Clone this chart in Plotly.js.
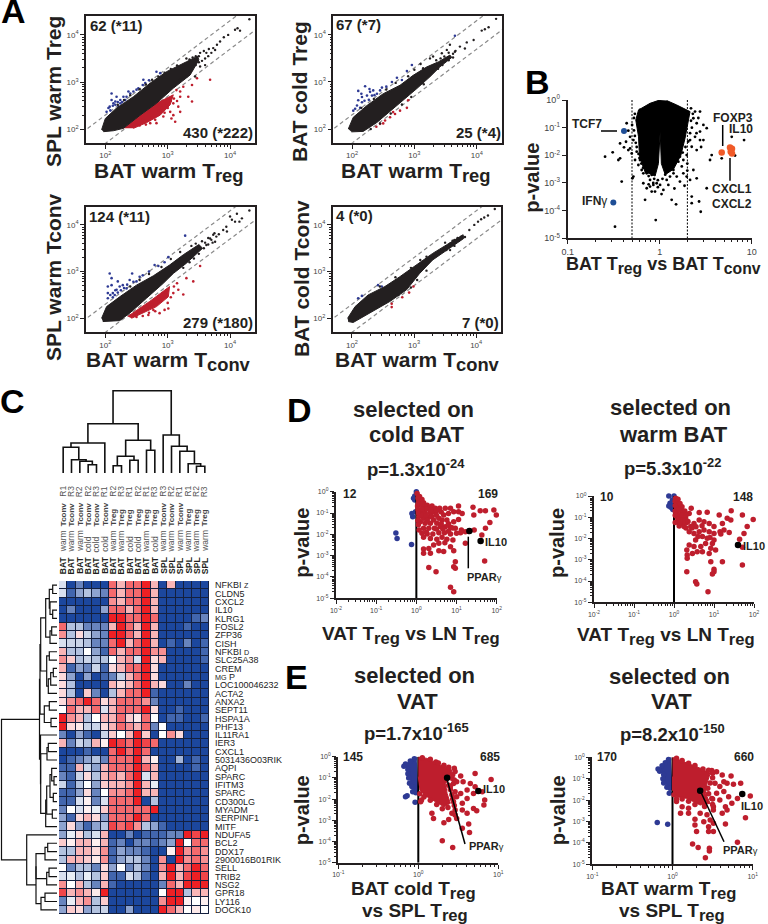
<!DOCTYPE html>
<html>
<head>
<meta charset="utf-8">
<script src="https://cdn.plot.ly/plotly-3.0.1.min.js"></script>
<style>body{margin:0;background:#fff}</style>
</head>
<body>
<div id="chart"></div>
<script>
// all scatter values are log10(x), log10(y)
var a1Cloud = [[1.94,1.99],[2.00,2.23],[2.18,2.45],[2.45,2.69],[2.72,2.98],[2.98,3.22],[3.30,3.43],[3.48,3.55],[3.50,3.47],[3.36,3.15],[3.09,2.87],[2.82,2.55],[2.56,2.30],[2.29,2.02],[2.13,1.97],[1.97,1.95]];
var a1Wedge = [[2.29,2.02],[2.82,2.55],[3.09,2.73],[3.04,2.52],[2.88,2.30],[2.66,2.14],[2.45,2.02]];
var a1Black = [[4.31,4.33],[4.12,4.14],[4.16,4.09],[4.08,4.11],[3.97,4.0],[3.90,3.95],[3.84,3.86],[3.79,3.79],[3.73,3.72],[3.76,3.68],[3.52,3.33],[3.60,3.36],[3.44,3.12],[3.39,3.26],
  [3.30,3.50],[3.35,3.48],[3.40,3.52],[3.45,3.55],[3.50,3.55],[3.52,3.62],[3.58,3.66],[3.62,3.62],[3.66,3.70],[3.40,3.32],[3.45,3.36],[3.50,3.42],[3.55,3.45],[3.60,3.50],[3.65,3.55],[3.70,3.62],[3.20,3.05],[3.25,3.10],[3.30,3.12],[3.35,3.20],[3.15,3.35],[3.05,3.28],[2.95,3.20],[2.85,3.12],[2.75,3.05],[2.65,2.95],[2.55,2.85],[2.40,2.72],[2.30,2.62],[2.20,2.52]];
var a1Blue = [[2.10,2.76],[2.05,2.45],[2.18,2.69],[2.24,2.62],[2.29,2.69],[2.61,3.05],[2.64,2.98],[2.13,2.55],[2.07,2.48],[2.34,2.69],[2.45,2.80],[2.82,3.22],[2.88,3.19],[2.24,2.55],[2.16,2.59],[2.37,2.80],[2.53,2.87],[2.21,2.48],[2.32,2.62],[2.02,2.37],
  [2.08,2.40],[2.12,2.50],[2.16,2.52],[2.2,2.58],[2.27,2.58],[2.4,2.76],[2.5,2.84],[2.6,2.94],[2.7,3.04],[2.1,2.62]];
var a1Red = [[3.68,3.05],[3.47,3.08],[3.39,2.94],[3.33,2.69],[3.39,2.59],[3.25,2.90],[3.20,2.69],[3.14,2.83],[3.09,2.55],[3.04,2.37],[3.09,2.30],[3.20,2.37],[3.17,2.48],[3.06,2.23],[3.12,2.16],[2.98,2.55],[2.93,2.27],[2.82,2.13],[2.72,2.13],
  [2.55,2.08],[2.6,2.2],[2.65,2.1],[2.75,2.25],[2.8,2.2],[2.85,2.4],[2.9,2.45],[2.95,2.35],[3.0,2.45],[3.05,2.6],[3.1,2.65],[3.15,2.6],[3.2,2.8],[2.45,2.05],[2.7,2.38],[2.5,2.15]];

var a2Cloud = [[1.94,2.00],[2.02,2.25],[2.24,2.50],[2.50,2.75],[2.77,2.93],[2.98,3.14],[3.20,3.32],[3.39,3.43],[3.57,3.57],[3.60,3.52],[3.41,3.32],[3.25,3.11],[3.04,2.86],[2.82,2.61],[2.61,2.36],[2.40,2.14],[2.18,1.95],[1.99,1.94]];
var a2Black = [[4.31,4.34],[4.19,4.16],[4.13,4.12],[4.08,4.09],[3.95,3.89],[3.84,3.84],[3.81,3.71],[3.73,3.75],[3.65,3.64],[3.57,3.79],[3.52,3.68],[3.44,3.61],[3.25,3.50],[3.30,3.54],[3.14,3.29],
  [3.35,3.46],[3.42,3.50],[3.48,3.54],[3.55,3.62],[3.62,3.60],[3.66,3.66],[3.30,3.22],[3.38,3.28],[3.45,3.36],[3.55,3.46],[3.62,3.52],[3.1,3.38],[3.0,3.26],[2.9,3.12],[2.7,2.98],[2.55,2.84],[2.35,2.64],[2.15,2.45],[2.62,2.33],[2.8,2.52],[2.95,2.68],[3.15,2.95],[2.45,2.12],[2.30,2.00]];
var a2Blue = [[2.21,2.91],[2.10,2.81],[2.29,2.79],[2.16,2.68],[2.34,2.82],[2.48,2.88],[2.10,2.61],[2.05,2.43],[2.02,2.39],[2.16,2.57],[2.24,2.71],[2.88,3.23],[2.96,3.36],[3.65,3.98],[2.72,3.09],[2.64,3.00],[2.80,3.04],[2.32,2.71],[2.40,2.75],
  [2.08,2.5],[2.13,2.45],[2.2,2.6],[2.27,2.62],[2.36,2.72],[2.45,2.82],[2.55,2.9],[2.15,2.75],[2.28,2.85]];
var a2Red = [[2.88,2.45],[2.90,2.61],[2.77,2.39],[2.69,2.32],[2.61,2.25],[2.53,2.18],[2.45,2.11],[2.39,2.05],[2.50,2.12],[2.66,2.36]];

var a3Cloud = [[1.94,2.00],[2.02,2.25],[2.23,2.46],[2.50,2.71],[2.77,2.91],[3.03,3.14],[3.25,3.36],[3.50,3.58],[3.56,3.50],[3.30,3.18],[3.09,2.96],[2.93,2.75],[2.66,2.43],[2.39,2.11],[2.23,1.95],[1.96,1.93]];
var a3Wedge = [[2.36,2.04],[2.71,2.36],[3.03,2.68],[3.01,2.46],[2.82,2.25],[2.55,2.07],[2.42,2.0]];
var a3Black = [[4.31,4.31],[4.11,4.24],[4.19,4.14],[4.15,4.07],[4.08,4.07],[4.0,4.18],[4.03,4.11],[3.94,3.96],[3.89,3.89],[3.95,3.86],[3.73,3.79],[3.62,3.57],[3.76,3.64],[3.68,3.71],[3.41,3.39],
  [3.55,3.65],[3.6,3.62],[3.65,3.72],[3.7,3.68],[3.75,3.82],[3.58,3.50],[3.65,3.58],[3.72,3.62],[3.78,3.75],[3.82,3.80],[3.45,3.6],[3.38,3.55],[3.42,3.28],[3.5,3.38],[3.2,3.42],[3.05,3.27],[2.9,3.1],[2.7,2.95],[2.55,2.82],[2.4,2.68],[3.25,3.08],[3.35,3.2]];
var a3Blue = [[2.07,2.96],[2.10,2.86],[2.20,2.79],[2.04,2.68],[2.10,2.71],[2.18,2.61],[2.04,2.43],[2.28,2.71],[2.39,2.82],[2.43,2.96],[2.55,2.89],[2.79,3.14],[3.01,3.31],[3.28,3.77],[2.34,2.64],[2.12,2.54],[2.23,2.68],[2.50,2.79],[2.04,2.54],[2.15,2.50],
  [2.08,2.5],[2.12,2.45],[2.16,2.6],[2.2,2.55],[2.25,2.6],[2.3,2.65],[2.35,2.72],[2.45,2.78],[2.6,2.92],[2.7,3.0],[2.85,3.12],[2.95,3.2]];
var a3Red = [[3.52,3.12],[3.30,2.86],[3.41,2.79],[3.17,2.61],[3.25,2.51],[3.09,2.54],[2.95,2.18],[3.01,2.21],[2.87,2.11],[2.77,2.18],[2.69,2.07],
  [2.5,2.03],[2.6,2.05],[2.7,2.12],[2.75,2.3],[2.85,2.35],[2.9,2.45],[2.95,2.55],[3.05,2.45],[3.1,2.68],[3.15,2.75],[2.8,2.15],[2.45,2.05],[3.0,2.33]];

var a4Cloud = [[1.93,2.00],[2.05,2.25],[2.26,2.50],[2.53,2.68],[2.77,2.89],[3.04,3.14],[3.30,3.39],[3.52,3.57],[3.79,3.79],[3.80,3.71],[3.57,3.50],[3.30,3.25],[3.09,2.96],[2.88,2.61],[2.61,2.36],[2.29,2.11],[2.02,1.91],[1.94,1.93]];
var a4Black = [[4.30,4.34],[4.19,4.20],[4.13,4.16],[4.08,4.12],[4.03,4.07],[3.97,4.0],[3.89,3.89],[3.76,3.75],[3.65,3.68],[3.52,3.46],[3.30,3.31],
  [3.5,3.62],[3.58,3.60],[3.62,3.66],[3.7,3.72],[3.75,3.72],[3.58,3.46],[3.65,3.55],[3.72,3.66],[3.82,3.74],[3.2,3.32],[3.1,3.25],[2.95,3.08],[2.7,2.88],[2.45,2.68],[3.2,3.02],[3.05,2.82],[2.95,2.66],[2.75,2.50]];
var a4Blue = [[2.10,2.43],[2.16,2.48],[2.42,2.71],[2.48,2.68]];
var a4Red = [[2.64,2.24],[2.64,2.31],[2.81,2.45],[2.92,2.55],[2.99,2.68]];

var bCloud = [[0,0],[-0.105,-0.12],[-0.23,-0.36],[-0.26,-0.72],[-0.23,-1.33],[-0.22,-2.05],[-0.16,-2.59],[-0.05,-2.75],[-0.014,-2.3],[0,-1.14],[0.005,-1.14],[0.018,-2.3],[0.06,-2.7],[0.15,-2.5],[0.23,-2.0],[0.275,-1.39],[0.31,-0.84],[0.33,-0.42],[0.185,-0.18],[0.076,-0.02]];
var bBlack = [[-0.594,-2.05],[-0.511,-1.89],[-0.449,-2.17],[-0.431,-2.11],[-0.388,-1.71],[-0.341,-1.81],[-0.413,-2.95],[-0.297,-2.83],[-0.286,-2.77],[-0.341,-1.11],[-0.322,-1.33],[-0.286,-1.45],[-0.359,-0.84],[-0.366,-1.51],[-0.431,-1.57],[-0.214,-0.36],[-0.178,-3.01],[-0.159,-3.61],[-0.043,-4.34],[-0.486,-4.58],[-0.141,-3.19],[-0.105,-3.13],[-0.069,-3.07],[-0.051,-3.31],[-0.087,-3.31],[-0.033,-3.01],[-0.105,-2.89],[-0.087,-2.71],[-0.141,-2.65],[-0.196,-2.53],[-0.232,-2.35],[-0.268,-2.17],[-0.304,-1.93],[-0.322,-1.75],[-0.25,-1.87],[-0.178,-2.65],[-0.214,-2.17],
  [0.438,-0.42],[0.384,-0.42],[0.366,-0.66],[0.402,-0.84],[0.475,-0.90],[0.511,-1.02],[0.438,-1.14],[0.384,-1.33],[0.33,-1.45],[0.438,-1.45],[0.475,-1.45],[0.348,-1.69],[0.402,-1.81],[0.293,-1.99],[0.257,-2.17],[0.203,-2.23],[0.149,-2.53],[0.185,-2.77],[0.112,-2.77],[0.076,-2.89],[0.094,-3.07],[0.257,-2.65],[0.293,-2.77],[0.33,-2.89],[0.366,-2.53],[0.402,-2.83],[0.511,-3.19],[0.348,-3.49],[0.428,-3.67],[0.348,-3.73],[0.446,-4.04],[0.13,-3.61],[0.178,-3.77],[0.565,-1.99],[0.547,-2.17],[0.674,-2.11],[0.783,-1.33],[0.917,-1.45],[0.819,-2.01],[0.04,-3.25],[0.004,-3.07],
  [-0.27,-0.5],[-0.28,-0.65],[-0.3,-0.9],[-0.28,-1.1],[-0.27,-1.3],[-0.26,-1.55],[-0.25,-1.7],[-0.23,-1.95],[-0.22,-2.1],[-0.2,-2.3],[-0.18,-2.45],[-0.15,-2.6],[-0.12,-2.75],[-0.06,-2.85],[-0.02,-2.9],[-0.07,-3.0],[-0.12,-3.05],
  [0.34,-0.3],[0.36,-0.5],[0.34,-0.75],[0.35,-1.0],[0.33,-1.2],[0.31,-1.5],[0.28,-1.7],[0.25,-1.9],[0.22,-2.05],[0.18,-2.2],[0.14,-2.4],[0.1,-2.55],[0.06,-2.7],[0.03,-2.85],[0.15,-2.65],[0.24,-2.4],[0.3,-2.3],[0.4,-1.2],[0.42,-0.65],[0.45,-1.7],[0.3,-2.55],[0.22,-2.95],[0.27,-3.1],[0.16,-3.2],[0.02,-3.4],[-0.02,-3.15]];
var bBlue = [[-0.388,-1.12],[-0.504,-3.71]];
var bOrange = [[0.674,-1.90],[0.764,-1.72],[0.786,-1.76],[0.772,-1.87],[0.786,-1.93]];
var bCutoffs = [0.5, 2];

var d1Red = [[0.02,-0.08],[0.08,-0.23],[0.14,-0.36],[0.06,-0.42],[0.18,-0.52],[0.10,-0.58],[0.27,-0.63],[0.03,-0.67],[0.17,-0.73],[0.31,-0.78],[0.39,-0.67],[0.47,-0.78],[0.58,-0.78],[0.72,-0.78],[0.85,-0.78],[1.05,-0.67],[0.10,-0.94],[0.22,-0.98],[0.35,-0.98],[0.45,-0.94],[0.06,-1.17],[0.18,-1.25],[0.31,-1.20],[0.43,-1.33],[0.56,-1.25],[0.68,-1.09],[0.80,-1.02],[0.93,-0.94],[1.05,-0.94],[1.14,-1.02],[1.41,-0.73],[1.59,-0.89],[1.72,-0.89],[1.93,-0.86],[1.99,-1.09],[1.43,-1.09],[1.05,-1.30],[0.93,-1.41],[0.76,-1.33],[0.64,-1.33],[0.51,-1.48],[0.35,-1.48],[0.22,-1.48],[0.10,-1.41],[1.83,-1.45],[1.72,-1.72],[1.63,-2.03],[1.44,-1.80],[1.22,-1.88],[1.10,-1.92],[0.97,-1.72],[0.85,-1.67],[0.72,-1.64],[0.60,-1.64],[0.45,-1.72],[0.31,-1.72],[0.18,-1.72],[0.14,-1.95],[0.27,-1.98],[0.41,-1.98],[0.56,-1.92],[0.70,-1.92],[0.85,-1.98],[1.00,-1.95],[0.76,-2.23],[0.64,-2.14],[0.51,-2.23],[0.35,-2.19],[0.18,-2.14],[0.91,-2.27],[0.85,-2.58],[0.71,-2.39],[0.56,-2.42],[0.43,-2.50],[0.18,-2.69],[0.31,-2.66],[0.35,-2.89],[0.18,-2.89],[0.68,-2.81],[0.56,-2.77],[0.93,-2.77],[1.22,-2.42],[0.97,-3.28],[0.93,-3.52],[0.97,-3.59],[0.31,-3.55],[0.49,-3.75],[0.85,-4.48],[0.93,-4.69],[1.70,-3.25],
  [0.04,-0.3],[0.12,-0.45],[0.2,-0.65],[0.05,-0.55],[0.14,-0.6],[0.25,-0.8],[0.04,-0.85],[0.14,-0.82],[0.36,-0.85],[0.5,-0.9],[0.62,-0.95],[0.05,-1.0],[0.14,-1.1],[0.25,-1.12],[0.38,-1.15],[0.04,-1.35],[0.05,-1.55],[0.27,-1.35],[0.5,-1.1],[0.62,-1.5],[0.8,-1.5],[0.9,-1.7],[0.07,-1.8],[0.25,-1.9],[0.5,-1.75],[0.66,-1.75],[0.8,-1.85],[1.12,-1.8],[1.3,-1.87]];
var d1Blue = [[-0.51,-1.94],[-0.48,-2.19],[-0.12,-2.48],[-0.09,-1.17],[-0.11,-1.02],[-0.02,-0.94],[-0.04,-0.20],[-0.04,-0.39],[0,0],[-0.07,-0.31]];
var d1Genes = [[1.32,-1.84],[1.60,-2.31]];

var d2Red = [[0.04,-0.11],[0.08,-0.27],[0.13,-0.42],[0.07,-0.58],[0.17,-0.58],[0.08,-0.74],[0.21,-0.74],[0.13,-0.89],[0.25,-0.89],[0.07,-0.97],[0.17,-1.05],[0.29,-1.05],[0.08,-1.21],[0.21,-1.29],[0.32,-1.25],[0.13,-1.41],[0.25,-1.44],[0.38,-0.82],[0.43,-0.58],[0.63,-0.78],[0.83,-0.77],[1.13,-0.89],[1.43,-0.69],[1.71,-0.89],[1.98,-1.10],[1.83,-1.44],[1.75,-1.76],[1.64,-2.04],[1.38,-1.72],[1.25,-1.60],[1.15,-1.68],[1.33,-1.05],[1.42,-1.13],[1.21,-1.29],[1.00,-1.44],[0.88,-1.29],[0.75,-1.21],[0.63,-1.13],[0.50,-1.29],[0.42,-1.44],[0.38,-1.68],[0.50,-1.76],[0.63,-1.68],[0.75,-1.60],[0.88,-1.68],[1.00,-1.76],[1.17,-1.79],[0.71,-1.91],[0.83,-1.99],[0.96,-2.23],[1.00,-2.07],[0.79,-2.23],[0.54,-2.07],[0.38,-2.30],[0.50,-2.38],[0.67,-2.38],[0.92,-2.46],[0.32,-2.54],[0.33,-2.77],[0.46,-2.70],[0.58,-2.62],[0.71,-2.62],[0.88,-2.70],[1.04,-2.54],[0.33,-2.93],[0.92,-3.09],[1.21,-3.09],[1.71,-2.41],[1.71,-3.24],[1.00,-3.56],[0.96,-3.67],[0.32,-3.56],[0.54,-4.03],[0.57,-4.14],[0.85,-4.50],[1.00,-3.45],
  [0.03,-0.25],[0.1,-0.15],[0.03,-0.45],[0.15,-0.35],[0.2,-0.5],[0.03,-0.7],[0.12,-0.65],[0.27,-0.7],[0.03,-0.9],[0.2,-0.9],[0.3,-0.9],[0.1,-1.1],[0.03,-1.25],[0.25,-1.2],[0.15,-1.25],[0.35,-1.2],[0.3,-1.5],[0.45,-1.5],[0.55,-1.45],[0.7,-1.4],[0.6,-1.9],[0.9,-1.95]];
var d2Blue = [[-0.13,0],[0,0],[-0.04,-0.19],[-0.10,-0.34],[-0.02,-0.42],[-0.08,-0.53],[-0.03,-0.63],[-0.13,-0.47]];
var d2Genes = [[1.60,-2.30]];

var e1Cloud = [[0,0],[0.11,-0.08],[0.275,-0.39],[0.42,-0.63],[0.40,-1.02],[0.34,-1.26],[0.36,-1.73],[0.40,-2.20],[0.32,-2.36],[0.21,-2.12],[0.11,-1.89],[0.02,-1.57],[0,-0.94]];
var e1BlueCloud = [[-0.02,0],[-0.14,-0.31],[-0.175,-0.39],[-0.12,-0.71],[-0.10,-1.18],[-0.06,-1.60],[0,-1.65]];
var e1Red = [[0.91,-1.07],[0.71,-0.79],[0.53,-0.91],[0.56,-1.18],[0.65,-1.26],[0.71,-1.42],[0.61,-1.57],[0.53,-1.73],[0.46,-1.65],[0.40,-1.42],[0.44,-1.26],[0.48,-1.18],[0.42,-1.02],[0.48,-1.89],[0.44,-2.12],[0.55,-2.20],[0.61,-1.97],[0.69,-1.73],[0.80,-1.65],[0.83,-2.04],[0.82,-2.28],[0.69,-2.44],[0.73,-2.55],[0.55,-2.52],[0.61,-2.67],[0.46,-2.52],[0.42,-2.67],[0.17,-2.67],[0.19,-2.91],[0.32,-3.11],[0.38,-2.96],[0.48,-2.91],[0.46,-2.75],[0.63,-3.18],[0.55,-3.38],[0.64,-3.58],[0.30,-3.96],[0.43,-4.28],[0.04,-2.04],[0.09,-1.81],[0.03,-2.12],
  [0.05,-0.05],[0.15,-0.12],[0.22,-0.25],[0.32,-0.4],[0.38,-0.5],[0.45,-0.55],[0.46,-0.7],[0.43,-0.85],[0.45,-1.1],[0.38,-1.35],[0.4,-1.55],[0.42,-1.8],[0.43,-2.0],[0.45,-2.3],[0.37,-2.4],[0.3,-2.45],[0.23,-2.25],[0.15,-2.05],[0.07,-1.9],[0.02,-1.75],[0.25,-0.3]];
var e1Blue = [[-0.14,-1.84],[-0.16,-1.89],[-0.04,-2.15],[-0.05,-0.1],[-0.1,-0.2],[-0.16,-0.35],[-0.18,-0.45],[-0.13,-0.6],[-0.13,-0.8],[-0.12,-1.0],[-0.11,-1.25],[-0.08,-1.4],[-0.07,-1.65],[-0.03,-1.7]];
var e1Genes = [[0.36,-0.99],[0.75,-1.62]];

var e2Cloud = [[0,0],[0.14,-0.20],[0.345,-0.51],[0.47,-0.75],[0.43,-1.21],[0.41,-1.68],[0.47,-2.15],[0.345,-2.23],[0.18,-1.92],[0.05,-1.84],[0,-1.53],[0,-0.90]];
var e2BlueCloud = [[-0.02,0],[-0.11,-0.36],[-0.175,-0.59],[-0.09,-0.83],[-0.11,-1.14],[-0.05,-1.37],[0,-1.37]];
var e2Red = [[0.73,-0.87],[0.62,-0.83],[0.55,-0.67],[0.49,-0.62],[0.85,-1.21],[0.76,-1.26],[0.68,-1.21],[0.64,-1.14],[0.59,-1.37],[0.53,-1.21],[0.70,-1.84],[0.81,-1.92],[0.97,-1.81],[0.91,-2.82],[0.64,-1.60],[0.55,-1.68],[0.49,-1.92],[0.59,-1.99],[0.66,-2.31],[0.68,-2.46],[0.74,-2.15],[0.62,-2.62],[0.51,-2.31],[0.66,-3.12],[0.51,-2.46],[0.43,-2.69],[0.47,-2.93],[0.45,-3.24],[0.51,-3.08],[0.28,-2.90],[0.28,-3.16],[0.30,-3.47],[0.45,-3.47],[0.05,-2.07],[0.12,-2.31],[0.20,-2.38],[0.10,-2.62],[0.20,-2.62],[0.25,-4.05],[0.32,-4.21],[0.46,-4.25],[0.46,-4.38],[0.41,-4.69],[0.81,-3.97],[0.345,-2.62],[0.39,-3.01],[0.51,-3.47],
  [0.05,-0.05],[0.12,-0.15],[0.2,-0.28],[0.28,-0.38],[0.38,-0.55],[0.45,-0.6],[0.5,-0.75],[0.5,-0.95],[0.47,-1.2],[0.44,-1.45],[0.45,-1.7],[0.5,-1.95],[0.5,-2.2],[0.4,-2.3],[0.28,-2.2],[0.2,-2.05],[0.12,-1.95],[0.05,-1.95],[0.02,-1.75]];
var e2Blue = [[-0.19,-3.05],[-0.06,-3.13],[-0.04,-1.68],[-0.05,-0.1],[-0.09,-0.25],[-0.13,-0.4],[-0.18,-0.55],[-0.16,-0.65],[-0.11,-0.8],[-0.12,-1.0],[-0.11,-1.2],[-0.07,-1.4],[-0.03,-1.45]];
var e2Genes = [[0.345,-1.56],[0.87,-1.71]];

// heatmap, C
var colTissue = ['BAT','BAT','BAT','BAT','BAT','BAT','BAT','BAT','BAT','BAT','BAT','BAT','SPL','SPL','SPL','SPL','SPL','SPL'];
var colTemp = ['warm','warm','warm','cold','cold','cold','warm','warm','cold','cold','warm','cold','warm','warm','warm','warm','warm','warm'];
var colCell = ['Tconv','Tconv','Tconv','Tconv','Tconv','Tconv','Treg','Treg','Treg','Treg','Treg','Treg','Tconv','Tconv','Tconv','Treg','Treg','Treg'];
var colRep = ['R1','R3','R2','R2','R3','R1','R2','R3','R1','R2','R1','R3','R3','R2','R1','R1','R2','R3'];
var genes = ['NFKBI <span style="font-size:80%">Z</span>','CLDN5','CXCL2','IL10','KLRG1','FOSL2','ZFP36','CISH','NFKBI <span style="font-size:80%">D</span>','SLC25A38','CREM','<span style="font-size:80%">MG</span> P','LOC100046232','ACTA2','ANXA2','SEPT11','HSPA1A','PHF13','IL11RA1','IER3','CXCL1','5031436O03RIK','AQPI','SPARC','IFITM3','SPARC','CD300LG','MYADM','SERPINF1','MITF','NDUFA5','BCL2','DDX17','2900016B01RIK','SELL','TRIB2','NSG2','GPR18','LY116','DOCK10'];
var heat = [
 [-0.5,-3,-2,-3,-3,-3, 2,1,2,2,3,1, -3,1,-3,-3,-3,-3],
 [-0.5,-2.5,-1.5,-1,-1.5,-2, 2,1,2,2,3,1, -3,-3,-3,-3,-3,-3],
 [-3,-3,-3,-3,-3,-3, 1.5,1,2,2,3,1, -3,-3,-3,-3,-3,-3],
 [-3,-2,-3,-3,-3,-1.5, 2,2,1,2,3,1, -3,-3,-3,-3,-3,-3],
 [-3,-3,-3,-3,-3,-3, 3,3,2,2,3,2, -3,-3,-3,-3,-2.5,-2],
 [2,-1,-1,-2,-2,-2, 1,3,2,1,3,1, -3,-3,-3,-2.5,-3,-3],
 [1.5,-1,0.5,-0.7,-1.5,-2, 3,3,2,1,3,1, -3,-3,-3,-3,-3,-3],
 [-0.5,-0.7,-0.7,-1,-2,-2, 2,3,1,2,3,1, -3,-2.5,-3,-2,-3,-2.5],
 [1,-1,-1,0,-1.5,-2.5, 2,1,2,2,3,1.5, 1.5,-3,-3,-3,-3,-2.5],
 [1.5,0.7,-1,-0.7,-1,-1, 0,1,1.5,-0.5,3,0.5, 1,-3,-3,-3,-3,-2.5],
 [1,-2.5,-1.5,-2,-0.7,-2.5, 0.5,1,2,2,3,0.5, -3,-3,-3,-3,-3,-3],
 [0.5,-1.5,-3,-1.5,-3,-2.5, -2,-0.7,1,2,3,0.5, -3,-3,-3,-3,-3,-3],
 [0.5,-1,-3,-3,-3,-3, 1,0.5,1,2,3,1, 0.5,-3,-3,-2,-3,-3],
 [0.5,-1,-3,0.7,-2,-3, -1,1,2,2,3,-2.5, -3,-3,-3,-3,-3,-3],
 [0.5,1.5,2,3,2,0.5, 1,2,2,2,1.5,-2, -3,-3,-3,-3,-3,-3],
 [0,2,1,1,2,-0.5, 1,2,2,2,3,0.5, -3,-3,-2.5,-3,-3,-3],
 [3,1.5,1,-1,0,1, 1,2,0.7,0.3,2,0, -3,-2.5,-2.5,-3,-3,-2.5],
 [3,0.5,0.3,-0.7,-0.7,0.5, 1,2,1.5,1,2,-2, 0,-3,-3,-3,-3,-3],
 [-2,-3,-1.5,-2.5,-3,-0.7, 0.7,0,1,3,0.7,-3, 0,1.5,0.5,-3,-3,-3],
 [1,-2,-0.7,-1,1,0.2, 3,2.5,2,3,2.5,2, -3,-3,-3,-3,-3,-3],
 [-3,-3,-3,-2.5,-3,-3, 2,3,2,3,2,-3, -3,-3,-3,-3,-3,-3],
 [-3,-2.5,-2,-1.5,-1,-2, 2,2,2,3,1,0.2, -3,-3,-1.2,-3,-2.5,-3],
 [-2.5,-2.5,1,-0.7,-1.5,1, 2,2,2,3,2,1, -3,-3,-3,-3,-2.5,-3],
 [-2,-2.5,-0.7,0.5,-1,1, 1.5,1,2,3,-0.5,1, -3,-3,-3,-3,-3,-3],
 [-0.7,-2.5,-1,0,-1.5,0.7, 1,1,1.5,3,1,-0.3, -3,-3,-3,-3,-3,-3],
 [-2.5,-2.5,-1.5,0.5,-2,0, 1.5,1.5,2,3,1,1, -3,-3,-3,-3,-3,-3],
 [-2.5,-2.5,-0.5,0.2,-2,-0.5, 2,2,2,3,-3,-1, -3,-3,-3,-3,-3,-3],
 [-2,0,-0.5,0.2,-0.3,0.7, 2,2,2,2,2,3, -3,-3,-3,-3,-3,-3],
 [-1.5,-2.5,0.5,1,0.5,-1.5, 2,2,2,3,2,-3, -3,-3,-3,-3,-3,-3],
 [-1.5,0.5,-1.5,-2.5,-1.5,-1, 2.5,2,2.5,1.5,-1,-1.5, -2.5,-3,-3,-3,-3,-3],
 [-1.5,-0.3,0.5,-1,-0.5,1, -3,-3,-2,-3,-2.5,-2.5, -2.5,-2,-2,3,2.5,3],
 [0.7,0.2,1,1,0.2,1, -2.5,-2,-3,-2,-2,-2.5, -2,-1.5,3,0,2,2],
 [-1,-1,1,1,0.5,1.5, -2.5,-1.5,-2,-2,-2.5,-3, -3,0.2,3,1.5,2,1.5],
 [-1,1,1,0.7,0.3,1.5, -2.5,-1.5,-1,-1,-2,-3, 1.5,-3,3,1.5,2,1.5],
 [0,-2,-1,-1,-2,0.5, -1.5,0,-2,-1,-2,-3, 1.5,3,1,2,3,2],
 [-0.5,-0.3,-1,-0.3,-1,0.7, -2.5,-2.5,-0.5,-1,-2.5,-3, 1,3,1,2.5,3,2.5],
 [1.5,0,1,-1,-2,1, -2.5,-3,-3,-3,-3,-3, -2,2,1,3,3,3],
 [2.5,1,1.5,1,0.3,3, -3,-3,-3,-3,-3,-3, 0,3,3,-1,1,1],
 [-2,-0.3,1,1.5,-1,0.7, -3,-3,-3,-3,-3,-3, 1.5,3,3,0.2,0,0.2],
 [-1.5,0.7,0.5,-1.5,-1,-0.7, -3,-3,-1.5,-3,-3,-3, 3,2,1,0,0.3,0]
];

// dendrograms: [left child, right child, merge height]; children below 100 are leaves, 100+k is merge k
var topTree = [[3,4,8.3],[2,100,11.7],[1,101,13.3],[0,102,25.7],[103,5,30],[6,7,7.3],[8,9,12.7],[105,106,16.7],[10,11,22.7],[107,108,32.7],[104,109,49.3],[16,17,6.7],[15,111,9.3],[14,112,21.7],[13,113,26.7],[12,114,38],[110,115,82.3]];
var leftTree = [[0,1,52.7],[3,4,52.7],[2,101,50],[100,102,49.3],[5,6,51.7],[104,7,50],[103,105,45.7],[8,9,49.3],[10,11,53.3],[108,12,50.7],[109,13,48.3],[107,110,46.7],[106,111,40.7],[14,15,49.3],[16,17,51],[113,114,44.3],[112,115,40],
  [19,20,48.3],[117,21,47],[23,24,54],[22,119,51.7],[25,26,53.3],[120,121,50],[27,28,52.3],[122,123,46.7],[124,29,45.7],[118,125,40.7],[18,126,40.5],[116,127,39.5],
  [31,32,47.7],[129,33,45],[34,35,49],[131,36,46.7],[130,132,36],[37,38,45],[134,39,41],[133,135,36],[30,136,26.7],[128,137,1.5]];

var W = 768, H = 924;
var FONT = 'Liberation Sans, Arial, sans-serif';
var INK = '#231f20', RED = '#be1e2d', BLUE = '#2e3a94', ORANGE = '#f05a28', GREY = '#8a8a8a';
var TREG = 'T<sub><span style="font-size:125%">reg</span></sub>';
var TCONV = 'T<sub><span style="font-size:125%">conv</span></sub>';

var traces = [], annos = [], shapes = [], layout = {};

function pow10(v) { return Math.pow(10, v); }
function xs(pairs) { return pairs.map(function (p) { return pow10(p[0]); }); }
function ys(pairs) { return pairs.map(function (p) { return pow10(p[1]); }); }

function decadeTicks(lo, hi) {
    var out = [];
    for (var d = lo; d <= hi; d++) out.push(pow10(d));
    return out;
}
function minorTicks(lo, hi) {
    var out = [];
    for (var d = lo; d < hi; d++) for (var m = 2; m < 10; m++) out.push(m * pow10(d));
    return out;
}
function powLabels(lo, hi) {
    var out = [];
    for (var d = lo; d <= hi; d++) out.push('10<sup>' + d + '</sup>');
    return out;
}

function logAxis(dom, range, anchor, lo, hi, o) {
    var ax = {
        domain: dom, range: range, type: 'log', anchor: anchor, showgrid: false, zeroline: false,
        showline: true, linecolor: o.lineColor || INK, linewidth: o.lineWidth || 1.5, mirror: o.mirror || false,
        ticks: 'outside', ticklen: 4, tickwidth: 1, tickcolor: INK,
        tickmode: 'array', tickvals: decadeTicks(lo, hi), ticktext: o.ticktext || powLabels(lo, hi),
        tickfont: {family: FONT, size: o.tickSize || 8, color: '#444'}, tickangle: 0
    };
    if (o.minor !== false) ax.minor = {tickmode: 'array', tickvals: minorTicks(lo, hi), ticks: 'outside', ticklen: 2, tickwidth: 1, tickcolor: INK, showgrid: false};
    return ax;
}

function addPanel(n, box, xr, yr, xo, yo) {
    var xd = n == 1 ? 'xaxis' : 'xaxis' + n, yd = n == 1 ? 'yaxis' : 'yaxis' + n;
    var xa = n == 1 ? 'x' : 'x' + n, ya = n == 1 ? 'y' : 'y' + n;
    layout[xd] = logAxis([box[0] / W, box[1] / W], xr, ya, Math.ceil(xr[0]), Math.floor(xr[1]), xo);
    layout[yd] = logAxis([1 - box[3] / H, 1 - box[2] / H], yr, xa, Math.ceil(yr[0]), Math.floor(yr[1]), yo);
    return {x: xa, y: ya};
}

function polygon(ax, pairs, color) {
    traces.push({x: xs(pairs), y: ys(pairs), xaxis: ax.x, yaxis: ax.y, mode: 'lines', fill: 'toself', fillcolor: color, line: {color: color, width: 1}, hoverinfo: 'skip'});
}
function dots(ax, pairs, color, size) {
    traces.push({x: xs(pairs), y: ys(pairs), xaxis: ax.x, yaxis: ax.y, mode: 'markers', marker: {color: color, size: size}, cliponaxis: false, hoverinfo: 'skip'});
}
function note(text, x, y, o) {
    o = o || {};
    annos.push({text: text, xref: 'paper', yref: 'paper', x: x / W, y: 1 - y / H, showarrow: false,
        xanchor: o.xanchor || 'center', yanchor: o.yanchor || 'middle', textangle: o.angle || 0,
        font: {family: FONT, size: o.size || 12, color: o.color || INK}, borderpad: 0, borderwidth: 0});
}
function leader(x0, y0, x1, y1) {
    shapes.push({type: 'line', xref: 'paper', yref: 'paper', x0: x0 / W, x1: x1 / W, y0: 1 - y0 / H, y1: 1 - y1 / H, line: {color: '#000', width: 1.5}});
}
function treeSegments(tree, base, leafAt) {
    var pos = [], hgt = [], px = [], py = [];
    function p(id) { return id < 100 ? leafAt(id) : pos[id - 100]; }
    function h(id) { return id < 100 ? base : hgt[id - 100]; }
    tree.forEach(function (m, k) {
        px.push(p(m[0]), p(m[0]), p(m[1]), p(m[1]), null);
        py.push(h(m[0]), m[2], m[2], h(m[1]), null);
        pos[k] = (p(m[0]) + p(m[1])) / 2;
        hgt[k] = m[2];
    });
    return {pos: px, hgt: py};
}

// A
var foldX = [10, 100000], foldHi = [20, 200000], foldLo = [5, 50000];
var boxA = {lineWidth: 1.6, mirror: true, tickSize: 8};
function panelA(n, box, xr, yr, cloud, wedge, black, blue, red) {
    var ax = addPanel(n, box, xr, yr, boxA, boxA);
    [foldHi, foldLo].forEach(function (f) {
        traces.push({x: foldX, y: f, xaxis: ax.x, yaxis: ax.y, mode: 'lines', line: {color: GREY, width: 1.2, dash: '4px,3px'}, hoverinfo: 'skip'});
    });
    if (wedge) polygon(ax, wedge, RED);
    dots(ax, red, RED, 2.6);
    dots(ax, blue, BLUE, 2.6);
    polygon(ax, cloud, INK);
    dots(ax, black, INK, 2.4);
}
panelA(1, [86, 255, 16, 143], [1.69, 4.40], [1.71, 4.40], a1Cloud, a1Wedge, a1Black, a1Blue, a1Red);
panelA(2, [333.3, 501.7, 16, 142.7], [1.70, 4.40], [1.71, 4.40], a2Cloud, null, a2Black, a2Blue, a2Red);
panelA(3, [86, 255, 206.7, 332.3], [1.69, 4.40], [1.70, 4.39], a3Cloud, a3Wedge, a3Black, a3Blue, a3Red);
panelA(4, [332.7, 501, 206.7, 332.3], [1.69, 4.40], [1.70, 4.39], a4Cloud, null, a4Black, a4Blue, a4Red);

// B
var axB = addPanel(5, [567.7, 751.7, 100, 238.3], [-1, 1], [-5, 0],
    {lineWidth: 2, ticktext: ['0.1', '1', '10'], tickSize: 9},
    {lineWidth: 2, minor: false, tickSize: 9});
bCutoffs.forEach(function (c) {
    traces.push({x: [c, c], y: [1, 0.00001], xaxis: axB.x, yaxis: axB.y, mode: 'lines', line: {color: '#000', width: 1, dash: '2px,1.5px'}, hoverinfo: 'skip'});
});
polygon(axB, bCloud, '#000');
dots(axB, bBlack, '#000', 2.8);
dots(axB, bBlue, '#1f4e96', 6);
dots(axB, bOrange, ORANGE, 6.5);

// D and E
function panelV(n, box, xr, red, blue, genesOn, cloud, blueCloud) {
    var ax = addPanel(n, box, xr, [-5, 0], {lineWidth: 1.6, tickSize: 7}, {lineWidth: 2.4, tickSize: 7});
    if (blueCloud) polygon(ax, blueCloud, BLUE);
    dots(ax, blue, BLUE, 5.5);
    traces.push({x: [1, 1], y: [1, 0.00001], xaxis: ax.x, yaxis: ax.y, mode: 'lines', line: {color: '#000', width: 2}, hoverinfo: 'skip'});
    if (cloud) polygon(ax, cloud, RED);
    dots(ax, red, RED, 5.5);
    dots(ax, genesOn, '#000', 6.5);
}
panelV(6, [336, 496.7, 491.7, 598.3], [-2, 2], d1Red, d1Blue, d1Genes);
panelV(7, [594, 754, 496, 602.3], [-2, 2], d2Red, d2Blue, d2Genes);
panelV(8, [338.3, 498.3, 756.7, 862.7], [-1, 1], e1Red, e1Blue, e1Genes, e1Cloud, e1BlueCloud);
panelV(9, [592.3, 752.7, 757.3, 864.3], [-1, 1], e2Red, e2Blue, e2Genes, e2Cloud, e2BlueCloud);

// C
var heatBox = [59, 209, 581, 914];
var colIdx = colTissue.map(function (c, i) { return i; });
var rowIdx = genes.map(function (g, i) { return i; });
traces.push({type: 'heatmap', z: heat, x: colIdx, y: rowIdx, xaxis: 'x10', yaxis: 'y10', zmin: -3, zmax: 3, xgap: 1, ygap: 1, showscale: false, hoverinfo: 'skip',
    colorscale: [[0, '#1c479e'], [0.5, '#ffffff'], [1, '#ee2024']]});
layout.xaxis10 = {domain: [heatBox[0] / W, heatBox[1] / W], range: [-0.5, 17.5], anchor: 'y10', showgrid: false, zeroline: false, showticklabels: false, ticks: ''};
layout.yaxis10 = {domain: [1 - heatBox[3] / H, 1 - heatBox[2] / H], range: [39.5, -0.5], anchor: 'x10', side: 'right', showgrid: false, zeroline: false, ticks: '', ticklen: 0, ticklabelstandoff: 5,
    tickmode: 'array', tickvals: rowIdx, ticktext: genes, tickfont: {family: FONT, size: 9, color: '#222'}};
shapes.push({type: 'rect', xref: 'x10', yref: 'y10', x0: -0.5, x1: 17.5, y0: -0.5, y1: 39.5, layer: 'below', fillcolor: '#14203f', line: {width: 0}});

var topSeg = treeSegments(topTree, 0, function (i) { return i; });
traces.push({x: topSeg.pos, y: topSeg.hgt, xaxis: 'x11', yaxis: 'y11', mode: 'lines', line: {color: '#111', width: 1.6}, hoverinfo: 'skip', connectgaps: false});
layout.xaxis11 = {domain: [heatBox[0] / W, heatBox[1] / W], range: [-0.5, 17.5], anchor: 'y11', visible: false};
layout.yaxis11 = {domain: [1 - 473 / H, 1 - 387 / H], range: [0, 86], anchor: 'x11', visible: false};

var leftSeg = treeSegments(leftTree, 57, function (i) { return i; });
traces.push({x: leftSeg.hgt, y: leftSeg.pos, xaxis: 'x12', yaxis: 'y12', mode: 'lines', line: {color: '#111', width: 1.2}, hoverinfo: 'skip', connectgaps: false});
layout.xaxis12 = {domain: [0, 57 / W], range: [0, 57], anchor: 'y12', visible: false};
layout.yaxis12 = {domain: [1 - heatBox[3] / H, 1 - heatBox[2] / H], range: [39.5, -0.5], anchor: 'x12', visible: false};

colIdx.forEach(function (i) {
    var x = 59 + 8.33 * (i + 0.5);
    note('<b>' + colTissue[i] + '</b>', x, 574, {angle: -90, yanchor: 'bottom', size: 8.5});
    note(colTemp[i], x, 552, {angle: -90, yanchor: 'bottom', size: 8.5, color: '#555'});
    note('<b>' + colCell[i] + '</b>', x, 526, {angle: -90, yanchor: 'bottom', size: 8, color: '#444'});
    note(colRep[i], x, 497, {angle: -90, yanchor: 'bottom', size: 8.5, color: '#555'});
});

// text
var LETTER = {size: 34, color: '#000'};
note('<b>A</b>', 13, 11, LETTER);
note('<b>B</b>', 537, 82, LETTER);
note('<b>C</b>', 12, 401, LETTER);
note('<b>D</b>', 299, 410, LETTER);
note('<b>E</b>', 296, 677, LETTER);

function bold(text, x, y, size, o) {
    o = o || {};
    o.size = size;
    note('<b>' + text + '</b>', x, y, o);
}
function left() { return {xanchor: 'left'}; }
function right() { return {xanchor: 'right'}; }
function up() { return {angle: -90}; }

bold('62 (*11)', 90, 26, 15, left());
bold('430 (*222)', 252.7, 133, 15, right());
bold('SPL warm Treg', 54, 92, 21, up());
bold('BAT warm ' + TREG, 169, 172, 21);
bold('67 (*7)', 335.7, 25, 15, left());
bold('25 (*4)', 500.7, 133, 15, right());
bold('BAT cold Treg', 300, 92, 21, up());
bold('BAT warm ' + TREG, 416, 172, 21);
bold('124 (*11)', 89, 216.7, 15, left());
bold('279 (*180)', 252.7, 322.7, 15, right());
bold('SPL warm Tconv', 54, 277, 21, up());
bold('BAT warm ' + TCONV, 168, 361, 21);
bold('4 (*0)', 335.7, 216, 15, left());
bold('7 (*0)', 499, 322.7, 15, right());
bold('BAT cold Tconv', 301, 279, 21, up());
bold('BAT warm ' + TCONV, 417, 361, 21);

bold('p-value', 531.7, 178, 20, up());
bold('BAT ' + TREG + ' vs BAT ' + TCONV, 663, 266, 18);
bold('TCF7', 587, 124, 12);
bold('FOXP3', 732.7, 118, 12);
bold('IL10', 740.7, 129, 12);
bold('CXCL1', 731.7, 188.7, 12);
bold('CXCL2', 731.7, 204, 12);
note('<b>IFN</b>γ', 607, 201, {xanchor: 'right', size: 12});
leader(601, 131, 617, 131);
leader(722.7, 125, 722.7, 146);
leader(730, 158, 730, 180.7);

var SEL = 22, PV = 18.5, XT = 19, CT = 12, GN = 11;
var GAMMA = '<span style="font-weight:normal;font-size:85%">γ</span>';

bold('selected on', 413, 409, SEL);
bold('cold BAT', 416, 435, SEL);
bold('p=1.3x10<sup>-24</sup>', 416, 468, PV);
bold('12', 343, 494, CT, left());
bold('169', 498, 494, CT, right());
bold('IL10', 485, 542, GN, left());
bold('PPAR' + GAMMA, 466.7, 576.7, GN, left());
leader(468.3, 536.7, 468.3, 568.3);
bold('p-value', 301.7, 543, 20, up());
bold('VAT ' + TREG + ' vs LN ' + TREG, 410.7, 635, XT);

bold('selected on', 670, 408, SEL);
bold('warm BAT', 673, 434, SEL);
bold('p=5.3x10<sup>-22</sup>', 672, 467, PV);
bold('10', 600, 497, CT, left());
bold('148', 752.7, 497, CT, right());
bold('IL10', 743.3, 545.7, GN, left());
bold('p-value', 557, 543, 20, up());
bold('VAT ' + TREG + ' vs LN ' + TREG, 666, 636, XT);

bold('selected on', 414, 675.7, SEL);
bold('VAT', 417.7, 701.7, SEL);
bold('p=1.7x10<sup>-165</sup>', 416.7, 731.7, PV);
bold('145', 342.7, 757, CT, left());
bold('685', 500, 757, CT, right());
bold('IL10', 482.7, 789.3, GN, left());
bold('PPAR' + GAMMA, 469, 845.7, GN, left());
leader(446.7, 778.3, 465, 844);
bold('p-value', 302.3, 810, 20, up());
bold('BAT cold ' + TREG, 413.3, 890, XT);
bold('vs SPL ' + TREG, 415, 912, XT);

bold('selected on', 669, 676, SEL);
bold('VAT', 671.7, 701.7, SEL);
bold('p=8.2x10<sup>-150</sup>', 672.3, 732.7, PV);
bold('170', 597.3, 757, CT, left());
bold('660', 754, 757, CT, right());
bold('IL10', 740.7, 805.7, GN, left());
bold('PPAR' + GAMMA, 723.3, 850, GN, left());
leader(700.7, 791.7, 724, 841.7);
bold('p-value', 558.3, 810, 20, up());
bold('BAT warm ' + TREG, 668.3, 890, XT);
bold('vs SPL ' + TREG, 671.7, 912, XT);

layout.width = W;
layout.height = H;
layout.margin = {l: 0, r: 0, t: 0, b: 0, pad: 0};
layout.paper_bgcolor = '#fff';
layout.plot_bgcolor = 'rgba(0,0,0,0)';
layout.showlegend = false;
layout.annotations = annos;
layout.shapes = shapes;
layout.font = {family: FONT};

Plotly.newPlot('chart', traces, layout, {displayModeBar: false, responsive: false});
</script>
</body>
</html>
